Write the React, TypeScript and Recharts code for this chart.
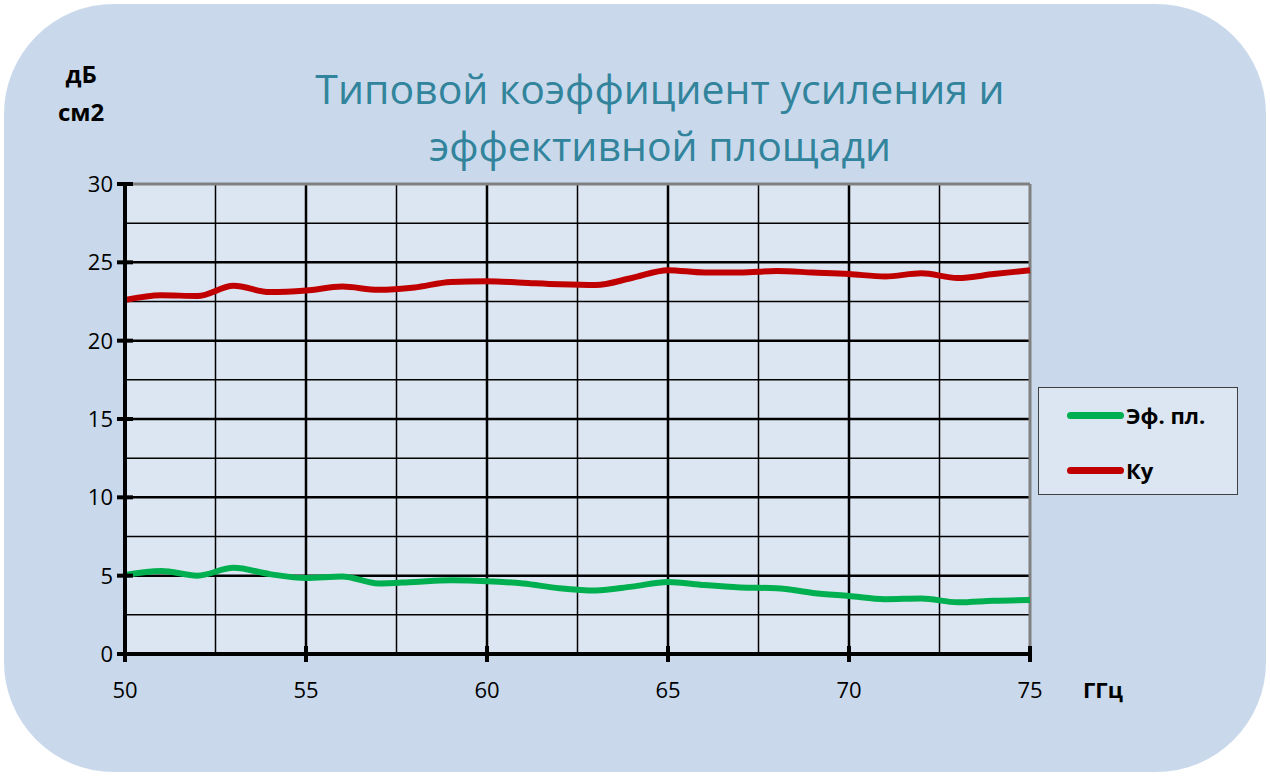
import React from "react";
import {
  LineChart, Line, XAxis, YAxis, CartesianGrid, ReferenceLine,
} from "recharts";

/* Excel-style look: pale blue ground, black grid, thick green/red traces. */
const FRAME = "#C9D9EB";
const PLOT = "#DCE6F2";
const TITLE = "#31849B";
const GREEN = "#00B050";
const RED = "#C00000";
const BORDER = "#808080";
const FONT = "'Open Sans', 'Noto Sans', sans-serif";

const freq = [50, 51, 52, 53, 54, 55, 56, 57, 58, 59, 60, 61, 62, 63, 64, 65, 66, 67, 68, 69, 70, 71, 72, 73, 74, 75];
const ku = [22.6, 22.9, 22.85, 23.5, 23.1, 23.2, 23.45, 23.25, 23.4, 23.75, 23.8, 23.7, 23.6, 23.55, 24.0, 24.5, 24.35, 24.35, 24.45, 24.35, 24.25, 24.1, 24.3, 24.0, 24.25, 24.5];
const effArea = [5.05, 5.3, 5.0, 5.5, 5.1, 4.85, 4.95, 4.5, 4.6, 4.7, 4.65, 4.5, 4.2, 4.05, 4.3, 4.6, 4.4, 4.25, 4.2, 3.9, 3.7, 3.5, 3.55, 3.3, 3.4, 3.45];

const xTicks = [50, 55, 60, 65, 70, 75];
const yTicks = [0, 5, 10, 15, 20, 25, 30];
const xMajor = [55, 60, 65, 70];
const xMinor = [52.5, 57.5, 62.5, 67.5, 72.5];
const yMajor = [5, 10, 15, 20, 25];
const yMinor = [2.5, 7.5, 12.5, 17.5, 22.5, 27.5];

const data = freq.map((f, i) => ({ f, eff: effArea[i], ku: ku[i] }));

const legendItems = [
  { key: "eff", name: "Эф. пл.", color: GREEN },
  { key: "ku", name: "Ку", color: RED },
];

function YTick({ x, y, payload }: any) {
  return (
    <g>
      <line x1={x - 8} x2={x + 8} y1={y} y2={y} stroke="#000" strokeWidth={4} />
      <text x={x - 12} y={y} dy={8} textAnchor="end" fontSize={22} fill="#000" fontFamily={FONT}>
        {payload.value}
      </text>
    </g>
  );
}

function XTick({ x, y, payload }: any) {
  return (
    <g>
      <line x1={x} x2={x} y1={y - 8} y2={y + 8} stroke="#000" strokeWidth={4} />
      <text x={x} y={y + 44} textAnchor="middle" fontSize={22} fill="#000" fontFamily={FONT}>
        {payload.value}
      </text>
    </g>
  );
}

function LegendBox() {
  return (
    <div
      style={{
        position: "absolute", left: 1038, top: 387, width: 200, height: 108,
        boxSizing: "border-box", background: PLOT, border: "1px solid #404040",
        padding: "13px 0 0 28px", fontFamily: FONT,
      }}
    >
      {legendItems.map((p) => (
        <div key={p.key} style={{ display: "flex", alignItems: "center", height: 28, marginBottom: 27 }}>
          <div style={{ width: 57, height: 7, borderRadius: 4, background: p.color }} />
          <span style={{ fontSize: 22, fontWeight: 700, color: "#000", marginLeft: 2 }}>{p.name}</span>
        </div>
      ))}
    </div>
  );
}

export default function App() {
  return (
    <div style={{ position: "absolute", left: 0, top: 0, width: 1270, height: 776, background: "#fff" }}>
      <div
        style={{
          position: "absolute", left: 4, top: 4, width: 1262, height: 768,
          background: FRAME, borderRadius: 110,
        }}
      />
      <div
        style={{
          position: "absolute", left: 260, top: 60, width: 800, textAlign: "center",
          color: TITLE, fontFamily: FONT, fontSize: 41, lineHeight: "57px",
        }}
      >
        Типовой коэффициент усиления и<br />эффективной площади
      </div>
      <div
        style={{
          position: "absolute", left: 58, top: 55, fontFamily: FONT, fontWeight: 700,
          fontSize: 24, lineHeight: "38px", textAlign: "center", color: "#000",
        }}
      >
        дБ<br />см2
      </div>
      <div
        style={{
          position: "absolute", left: 1083, top: 674, fontFamily: FONT, fontWeight: 700,
          fontSize: 22, color: "#000",
        }}
      >
        ГГц
      </div>
      <div style={{ position: "absolute", left: 0, top: 0 }}>
        <LineChart width={1270} height={776} data={data} margin={{ top: 184, right: 240, bottom: 82, left: 65 }}>
          <CartesianGrid fill={PLOT} horizontal={false} vertical={false} />
          <CartesianGrid stroke="#000" strokeWidth={1.5} horizontalValues={yMinor} verticalValues={xMinor} />
          <CartesianGrid stroke="#000" strokeWidth={2.5} horizontalValues={yMajor} verticalValues={xMajor} />
          <ReferenceLine y={30} stroke={BORDER} strokeWidth={3} />
          <ReferenceLine x={75} stroke={BORDER} strokeWidth={3} />
          <XAxis
            dataKey="f"
            type="number"
            domain={[50, 75]}
            ticks={xTicks}
            height={40}
            axisLine={{ stroke: "#000", strokeWidth: 4 }}
            tickLine={false}
            tickSize={0}
            tickMargin={0}
            tick={<XTick />}
            interval={0}
          />
          <YAxis
            type="number"
            domain={[0, 30]}
            ticks={yTicks}
            width={60}
            axisLine={{ stroke: "#000", strokeWidth: 4 }}
            tickLine={false}
            tickSize={0}
            tickMargin={0}
            tick={<YTick />}
            interval={0}
          />
          <Line
            type="monotone"
            dataKey="eff"
            name="Эф. пл."
            stroke={GREEN}
            strokeWidth={6}
            dot={false}
            isAnimationActive={false}
          />
          <Line
            type="monotone"
            dataKey="ku"
            name="Ку"
            stroke={RED}
            strokeWidth={6}
            dot={false}
            isAnimationActive={false}
          />
        </LineChart>
      </div>
      <LegendBox />
    </div>
  );
}
